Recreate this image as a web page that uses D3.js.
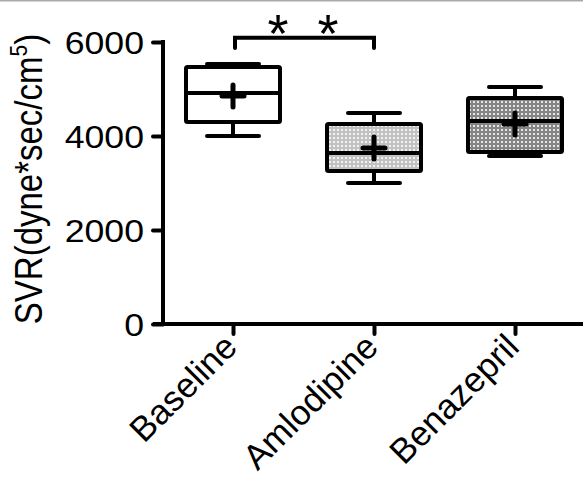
<!DOCTYPE html>
<html><head><meta charset="utf-8">
<script src="https://cdn.jsdelivr.net/npm/d3@7"></script>
<style>
html,body{margin:0;padding:0;background:#fff;}
svg text{font-family:"Liberation Sans",Arial,sans-serif;fill:#000;}
</style></head>
<body><svg id="c" width="583" height="479"></svg>
<script>
const categories = ["Baseline","Amlodipine","Benazepril"];
const minVals    = [4000, 3000, 3574];
const q1Vals     = [4298, 3255, 3660];
const medianVals = [4915, 3638, 4319];
const q3Vals     = [5468, 4255, 4809];
const maxVals    = [5532, 4489, 5043];
const meanVals   = [4851, 3745, 4255];
const fills      = ["white","url(#patLight)","url(#patDark)"];
const yTicks     = [0, 2000, 4000, 6000];
const yTitle     = "SVR(dyne*sec/cm";
const sigPair    = ["Baseline","Amlodipine"];
const sigLevel   = [6090, 5870];

const svg = d3.select("#c");
const defs = svg.append("defs");
function pat(id,bg,dot){
  const p = defs.append("pattern").attr("id",id).attr("patternUnits","userSpaceOnUse")
    .attr("width",4).attr("height",4);
  p.append("rect").attr("width",4).attr("height",4).attr("fill",bg);
  p.append("rect").attr("x",1).attr("y",1).attr("width",2).attr("height",2).attr("fill",dot);
}
pat("patLight","#c2c2c2","#f2f2f2");
pat("patDark","#858585","#e6e6e6");

// top grey line
svg.append("rect").attr("x",0).attr("y",0).attr("width",583).attr("height",1.5).attr("fill","#aaa");

const y = d3.scaleLinear().domain([0,6000]).range([324,42]);
const x = d3.scalePoint().domain(categories).range([233,515]);
const axisX = 163;

// y axis
const ya = svg.append("g").attr("transform",`translate(${axisX},0)`)
  .call(d3.axisLeft(y).tickValues(yTicks).tickSize(10).tickPadding(8).tickFormat(d3.format("d")));
ya.select(".domain").remove();
ya.append("line").attr("x1",0).attr("x2",0).attr("y1",y(6000)-2).attr("y2",y(0)+2)
  .attr("stroke","#000").attr("stroke-width",4);
ya.selectAll(".tick line").attr("stroke","#000").attr("stroke-width",4).attr("stroke-linecap","round");
ya.selectAll(".tick text").each(function(){
  const t = d3.select(this);
  t.attr("x",null).attr("dy",null)
   .attr("transform","translate(-19,11) scale(1.15,1)")
   .attr("font-size",31).attr("text-anchor","end");
});

// x axis
const xa = svg.append("g").attr("transform",`translate(0,${y(0)})`)
  .call(d3.axisBottom(x).tickSize(10).tickFormat(""));
xa.select(".domain").remove();
xa.append("line").attr("x1",153).attr("x2",583).attr("y1",0).attr("y2",0)
  .attr("stroke","#000").attr("stroke-width",4);
xa.selectAll(".tick line").attr("stroke","#000").attr("stroke-width",4).attr("stroke-linecap","round");
categories.forEach(c=>{
  svg.append("text").attr("font-size",35).attr("text-anchor","end")
    .attr("transform",`translate(${x(c)+6},${y(0)+25}) rotate(-45)`)
    .text(c);
});

// y title
const tt = svg.append("text").attr("font-size",33).attr("text-anchor","middle")
  .attr("transform","translate(42,179) scale(1.18,1) rotate(-90)");
tt.append("tspan").text(yTitle);
tt.append("tspan").attr("font-size",21).attr("dy",-13).text("5");
tt.append("tspan").attr("dy",13).text(")");

// boxes
const bw = 94, cw = 52, sw = 4;
const g = svg.append("g").attr("stroke","#000").attr("stroke-width",sw);
categories.forEach((c,i)=>{
  const cx = x(c);
  g.append("line").attr("x1",cx).attr("x2",cx).attr("y1",y(maxVals[i])).attr("y2",y(q3Vals[i]));
  g.append("line").attr("x1",cx).attr("x2",cx).attr("y1",y(q1Vals[i])).attr("y2",y(minVals[i]));
  g.append("line").attr("x1",cx-cw/2).attr("x2",cx+cw/2).attr("y1",y(maxVals[i])).attr("y2",y(maxVals[i])).attr("stroke-linecap","round");
  g.append("line").attr("x1",cx-cw/2).attr("x2",cx+cw/2).attr("y1",y(minVals[i])).attr("y2",y(minVals[i])).attr("stroke-linecap","round");
  g.append("rect").attr("x",cx-bw/2).attr("width",bw).attr("y",y(q3Vals[i]))
    .attr("height",y(q1Vals[i])-y(q3Vals[i])).attr("fill",fills[i]).attr("rx",1.5);
  g.append("line").attr("x1",cx-bw/2).attr("x2",cx+bw/2).attr("y1",y(medianVals[i])).attr("y2",y(medianVals[i]));
  // mean +
  const my = y(meanVals[i]);
  g.append("line").attr("x1",cx-11).attr("x2",cx+11).attr("y1",my).attr("y2",my).attr("stroke-width",5).attr("stroke-linecap","round");
  g.append("line").attr("x1",cx).attr("x2",cx).attr("y1",my-11).attr("y2",my+11).attr("stroke-width",5).attr("stroke-linecap","round");
});

// significance bracket
const bx1 = x(sigPair[0])+2, bx2 = x(sigPair[1]);
svg.append("path").attr("fill","none").attr("stroke","#000").attr("stroke-width",4).attr("stroke-linecap","round")
  .attr("d",`M${bx1},${y(sigLevel[1])}V${y(sigLevel[0])}H${bx2}V${y(sigLevel[1])}`);
[0.31,0.67].forEach(f=>{
  svg.append("text").attr("font-size",54).attr("text-anchor","middle")
    .attr("x",bx1+(bx2-bx1)*f).attr("y",y(sigLevel[0])+14).text("*");
});
</script></body></html>
